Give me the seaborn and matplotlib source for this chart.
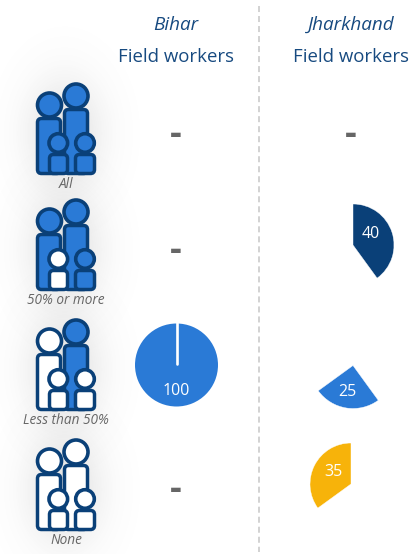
import numpy as np
import matplotlib
matplotlib.use("Agg")
import matplotlib.pyplot as plt
from matplotlib.patches import Circle, FancyBboxPatch
import seaborn as sns

FIG_W, FIG_H = 411, 554

states = ["Bihar", "Jharkhand"]
group_title = "Field workers"
row_labels = ["All", "50% or more", "Less than 50%", "None"]
bihar_values = [None, None, 100, None]
jharkhand_values = [None, 40, 25, 35]
jharkhand_shares = [40, 25, 35]
bihar_shares = [100]

BLUE = "#2a7ad6"
NAVY = "#0a4078"
GOLD = "#f7b30a"
share_colors = [NAVY, BLUE, GOLD]
TEXT_BLUE = "#174a80"
GREY = "#666666"

# which members of each family are filled: big left, big right, small left, small right
filled_members = [
    (True, True, True, True),
    (True, True, False, True),
    (False, True, False, False),
    (False, False, False, False),
]
row_tops = [83, 199, 319, 439]
label_ys = [184.5, 300.5, 420.5, 540.5]
marker_ys = [135, 251, 371, 490]

sns.set_theme(style="white")
plt.rcParams["font.family"] = ["Open Sans", "DejaVu Sans"]

fig = plt.figure(figsize=(FIG_W / 100, FIG_H / 100), dpi=100)
ax = fig.add_axes([0, 0, 1, 1])
ax.set_xlim(0, FIG_W)
ax.set_ylim(0, FIG_H)
ax.set_aspect("equal")
ax.axis("off")


def flip(y):
    return FIG_H - y


def body(left, right, y_top, y_bottom, filled):
    inset = 5.5
    ax.add_patch(FancyBboxPatch((left + inset, flip(y_bottom) + inset),
                                right - left - 2 * inset, y_bottom - y_top - 2 * inset,
                                boxstyle="round,pad=4,rounding_size=4",
                                fc=BLUE if filled else "white", ec=NAVY, lw=2.5, zorder=4))


def head(x, y, r, filled):
    ax.add_patch(Circle((x, flip(y)), r, fc=BLUE if filled else "white",
                        ec=NAVY, lw=2.6, zorder=5))


def halo(top):
    # soft grey glow behind the figures
    yy, xx = np.mgrid[0:FIG_H, 0:FIG_W]
    d2 = ((xx - 64) / 38.0) ** 2 + ((yy - (top + 50)) / 54.0) ** 2
    alpha = np.exp(-d2) * 0.2
    layer = np.dstack([np.full_like(alpha, 0.45)] * 3 + [alpha])
    ax.imshow(layer, extent=(0, FIG_W, 0, FIG_H), origin="upper", zorder=1,
              interpolation="bilinear", aspect="equal")


def family(top, members):
    big_l, big_r, small_l, small_r = members
    halo(top)
    body(36, 62, top + 34, top + 92, big_l)
    body(63, 89, top + 25, top + 92, big_r)
    head(49.5, top + 22, 12, big_l)
    head(76, top + 13, 12, big_r)
    body(48, 69, top + 70, top + 92, small_l)
    body(74, 96, top + 70, top + 92, small_r)
    head(58.3, top + 60, 9.3, small_l)
    head(85, top + 60, 9.3, small_r)


for top, members in zip(row_tops, filled_members):
    family(top, members)

for label, y in zip(row_labels, label_ys):
    ax.text(66, flip(y), label, ha="center", va="center", fontsize=9.8,
            style="italic", color=GREY, zorder=6)

# column headers
for x, state in zip([176, 351], states):
    ax.text(x, flip(24.5), state, ha="center", va="center", fontsize=13.6,
            style="italic", color=TEXT_BLUE)
    ax.text(x, flip(56.5), group_title, ha="center", va="center", fontsize=13.4,
            color=TEXT_BLUE)

# dashed divider between the two states
ax.plot([259, 259], [flip(6), flip(552)], color="#d2d2d2", lw=1.4,
        ls=(0, (3.1, 2.05)), zorder=2)


def sector(center, radius, shares, colors, show, value, offset):
    wedges, _ = ax.pie(shares, colors=colors, startangle=90, counterclock=False,
                       radius=radius, center=center, frame=True,
                       wedgeprops=dict(edgecolor="white", linewidth=0.3))
    for i, w in enumerate(wedges):
        w.set_zorder(3)
        w.set_visible(i == show)
    ax.text(center[0] + offset[0], center[1] + offset[1], str(value),
            ha="center", va="center", fontsize=11.5, color="white", zorder=6)


# each row shows one slice of the same pie, with its own anchor and label position
jharkhand_centers = {1: (353, 245), 2: (353, 365.5), 3: (351, 484)}
jharkhand_radii = {1: 41, 2: 43, 3: 41}
label_offsets = {1: (18, 11.5), 2: (-6, -26), 3: (-18, 12.5)}
for row, centre in jharkhand_centers.items():
    sector((centre[0], flip(centre[1])), jharkhand_radii[row], jharkhand_shares,
           share_colors, row - 1, jharkhand_values[row], label_offsets[row])

# Bihar: a single full circle with the seam showing at twelve o'clock
wedges, _ = ax.pie(bihar_shares, colors=[BLUE], startangle=90, counterclock=False,
                   radius=41.5, center=(176.5, flip(365)), frame=True,
                   wedgeprops=dict(linewidth=0))
for w in wedges:
    w.set_zorder(3)
ax.plot([176.5, 176.5], [flip(322), flip(364)], color="white", lw=1.9,
        solid_capstyle="round", zorder=4)
ax.text(176, flip(391), str(bihar_values[2]), ha="center", va="center",
        fontsize=11.5, color="white", zorder=6)

# rows with no value carry a dash
for x, values in zip([176, 351], [bihar_values, jharkhand_values]):
    for v, y in zip(values, marker_ys):
        if v is None:
            ax.text(x, flip(y), "-", ha="center", va="center", fontsize=26,
                    fontweight="bold", color=GREY, zorder=6)

ax.set_xlim(0, FIG_W)
ax.set_ylim(0, FIG_H)
ax.axis("off")
fig.savefig("out.png", dpi=100)
